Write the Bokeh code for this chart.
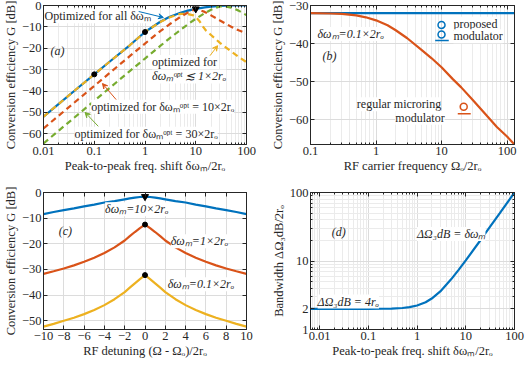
from bokeh.plotting import figure
from bokeh.layouts import column, row
from bokeh.models import (Label, Arrow, VeeHead, FixedTicker, CustomJSTickFormatter,
                          LinearAxis, LogAxis)
from bokeh.embed import file_html
from bokeh.resources import INLINE

FONT = "Liberation Serif"
TXT = "#262626"
BLUE = "#0072BD"
ORANGE = "#D95319"
YELLOW = "#EDB120"
GREEN = "#77AC30"

# ---------------- data: panel (a) ----------------
a_shift_all = [0.01, 0.02, 0.05, 0.1, 0.2, 0.5, 1, 2, 3, 5, 7, 10, 15, 20, 30, 50, 70, 100]
a_gain_all = [-52.0, -46.0, -38.1, -32.2, -26.3, -18.6, -12.4, -7.6, -5.4, -3.4, -2.4, -1.6, -0.9, -0.5, -0.15, 0.0, 0.0, 0.0]
a_shift_le1 = [0.01, 0.02, 0.05, 0.1, 0.2, 0.5, 1, 2, 3, 5, 7, 9, 10, 12, 14, 16, 20, 30, 50, 70, 100]
a_gain_le1 = [-52.0, -46.0, -38.1, -32.2, -26.3, -18.6, -12.4, -7.7, -5.6, -3.9, -4.0, -4.6, -5.3, -7.5, -10.0, -11.8, -13.8, -17.5, -21.5, -24.0, -26.5]
a_shift_10 = [0.01, 0.02, 0.05, 0.1, 0.2, 0.5, 1, 2, 3, 5, 7, 10, 15, 20, 30, 50, 70, 100]
a_gain_10 = [-57.5, -51.5, -43.6, -37.6, -31.6, -23.7, -17.8, -12.0, -8.9, -5.3, -3.3, -1.6, -3.0, -4.6, -7.0, -9.9, -11.6, -13.0]
a_shift_30 = [0.01, 0.02, 0.05, 0.1, 0.2, 0.5, 1, 2, 3, 5, 7, 10, 15, 20, 30, 40, 50, 70, 100]
a_gain_30 = [-64.5, -58.5, -50.6, -44.6, -38.6, -30.7, -24.8, -18.9, -15.5, -11.4, -8.8, -6.2, -3.6, -2.0, -0.4, -0.5, -1.0, -2.4, -4.5]
a_mark_x = [0.1, 1]
a_mark_y = [-32.2, -12.4]
a_tri_x = [10]
a_tri_y = [-1.6]

# ---------------- data: panel (b) ----------------
b_freq = [0.1, 0.2, 0.3, 0.5, 0.7, 1, 1.5, 2, 3, 5, 7, 10, 15, 20, 30, 50, 70, 100, 130]
b_proposed = [-32.0, -32.0, -32.0, -32.0, -32.0, -32.0, -32.0, -32.0, -32.0, -32.0, -32.0, -32.0, -32.0, -32.0, -32.0, -32.0, -32.0, -32.0, -32.0]
b_regular = [-32.0, -32.1, -32.2, -32.6, -33.1, -33.9, -35.2, -36.5, -38.6, -41.7, -43.8, -46.2, -49.4, -51.5, -54.8, -59.1, -61.9, -64.4, -66.5]

# ---------------- data: panel (c) ----------------
c_detune = [-10, -9, -8, -7, -6, -5, -4, -3, -2, -1.5, -1, -0.5, 0, 0.5, 1, 1.5, 2, 3, 4, 5, 6, 7, 8, 9, 10]
c_gain_10 = [-8.4, -7.6, -6.9, -6.2, -5.4, -4.7, -3.9, -3.35, -2.65, -2.3, -2.0, -1.75, -1.6,
             -1.75, -2.0, -2.3, -2.65, -3.35, -3.9, -4.7, -5.4, -6.2, -6.9, -7.6, -8.4]
c_gain_1 = [-31.7, -30.7, -29.6, -28.4, -27.0, -25.4, -23.6, -21.4, -18.7, -17.0, -15.4, -13.9, -12.5,
            -13.9, -15.4, -17.0, -18.7, -21.4, -23.6, -25.4, -27.0, -28.4, -29.6, -30.7, -31.7]
c_gain_01 = [-52.3, -51.2, -50.0, -48.8, -47.4, -45.8, -43.9, -41.6, -38.8, -37.1, -35.4, -33.8, -32.2,
             -33.8, -35.4, -37.1, -38.8, -41.6, -43.9, -45.8, -47.4, -48.8, -50.0, -51.2, -52.3]
c_peak_x = [0, 0]
c_peak_y = [-12.5, -32.2]
c_tri_x = [0]
c_tri_y = [-1.6]

# ---------------- data: panel (d) ----------------
d_shift = [0.0065, 0.01, 0.03, 0.1, 0.2, 0.3, 0.5, 0.7, 1, 1.5, 2, 3, 5, 7, 10, 20, 30, 50, 100]
d_bw = [2.0, 2.0, 2.0, 2.0, 2.01, 2.02, 2.06, 2.12, 2.24, 2.5, 2.83, 3.6, 5.4, 7.3, 10.2, 20.1, 30.1, 50.0, 100.0]

# tick labels
a_xticks = [0.01, 0.1, 1, 10, 100]
b_xticks = [0.1, 1, 10, 100]
c_xticks = [-10, -8, -6, -4, -2, 0, 2, 4, 6, 8, 10]
a_yticks = [-60, -50, -40, -30, -20, -10, 0]
b_yticks = [-60, -50, -40, -30]
c_yticks = [-50, -40, -30, -20, -10, 0]
d_yticks = [1, 2, 10, 100]


def log_minors(lo_exp, hi_exp):
    out = []
    for e in range(lo_exp, hi_exp):
        for k in range(2, 10):
            out.append(k * 10.0 ** e)
    return out


FMT = CustomJSTickFormatter(code="return tick.toString();")


def style_axis(ax):
    ax.major_label_text_font = FONT
    ax.major_label_text_font_size = "12.5px"
    ax.major_label_text_color = TXT
    ax.axis_label_text_font = FONT
    ax.axis_label_text_font_size = "12.5px"
    ax.axis_label_text_font_style = "normal"
    ax.axis_label_text_color = TXT
    ax.axis_line_color = TXT
    ax.major_tick_line_color = TXT
    ax.minor_tick_line_color = TXT
    ax.major_tick_in = 4
    ax.major_tick_out = 0
    ax.minor_tick_in = 2
    ax.minor_tick_out = 0
    ax.major_label_standoff = 2
    ax.axis_label_standoff = 1


def make_fig(w, h, xt, yt, xr, yr, bl, br, bt, bb):
    p = figure(width=w, height=h, x_axis_type=xt, y_axis_type=yt, x_range=xr, y_range=yr,
               output_backend="svg", toolbar_location=None,
               min_border_left=bl, min_border_right=br, min_border_top=bt, min_border_bottom=bb)
    p.outline_line_color = TXT
    p.outline_line_width = 1
    p.outline_line_alpha = 1
    p.background_fill_color = "white"
    p.border_fill_color = "white"
    for ax in p.axis:
        style_axis(ax)
    p.grid.grid_line_color = "#dcdcdc"
    p.grid.grid_line_width = 1
    return p


def box_axes(p):
    # mirrored tick marks on the top and right sides, labels hidden
    for side, src in (("above", p.xaxis[0]), ("right", p.yaxis[0])):
        cls = LogAxis if isinstance(src, LogAxis) else LinearAxis
        ax = cls(ticker=src.ticker, formatter=src.formatter)
        style_axis(ax)
        ax.major_label_text_font_size = "1px"
        ax.major_label_text_alpha = 0
        ax.major_label_standoff = 0
        if src.minor_tick_line_color is None:
            ax.minor_tick_line_color = None
        p.add_layout(ax, side)


def set_log_x(p, ticks, lo, hi):
    p.xaxis.ticker = FixedTicker(ticks=ticks, minor_ticks=log_minors(lo, hi))
    p.xaxis.formatter = FMT
    p.xgrid.ticker = p.xaxis[0].ticker
    p.xgrid.minor_grid_line_color = "#ebebeb"


def set_lin(axis, grid, ticks):
    axis.ticker = FixedTicker(ticks=ticks)
    axis.minor_tick_line_color = None
    grid.ticker = axis.ticker


def add_text(p, x, y, text, italic=False, size="12px", bg=True):
    p.add_layout(Label(x=x, y=y, text=text, text_font=FONT, text_font_size=size,
                       text_font_style="italic" if italic else "normal",
                       text_color=TXT, text_baseline="middle", text_align="left",
                       background_fill_color="white" if bg else None))


def add_arrow(p, x0, y0, x1, y1, color):
    p.add_layout(Arrow(x_start=x0, y_start=y0, x_end=x1, y_end=y1, line_color=color, line_width=1,
                       end=VeeHead(size=5, line_color=color, fill_color=color, line_width=1)))


# ---------------- panel (a) ----------------
pa = make_fig(264, 186, "log", "linear", (0.01, 100), (-65, 0), 42, 18, 5, 42)
set_log_x(pa, a_xticks, -2, 2)
set_lin(pa.yaxis[0], pa.ygrid[0], a_yticks)
pa.xaxis[0].axis_label = "Peak-to-peak freq. shift δωₘ/2rₒ"
pa.yaxis[0].axis_label = "Conversion efficiency G [dB]"
box_axes(pa)
pa.line(a_shift_all, a_gain_all, line_color=BLUE, line_width=2.2)
pa.line(a_shift_le1, a_gain_le1, line_color=YELLOW, line_width=2.2, line_dash="6 4")
pa.line(a_shift_10, a_gain_10, line_color=ORANGE, line_width=2.2, line_dash="6 4")
pa.line(a_shift_30, a_gain_30, line_color=GREEN, line_width=2.2, line_dash="6 4")
pa.scatter(a_mark_x, a_mark_y, marker="circle", size=5, fill_color="black", line_color="black")
pa.scatter(a_tri_x, a_tri_y, marker="inverted_triangle", size=7, fill_color="black", line_color="black")
add_text(pa, 0.0105, -5.0, "Optimized for all δωₘ")
add_text(pa, 0.0138, -21.4, "(a)", italic=True, bg=False)
add_text(pa, 1.38, -26.4, "optimized for")
add_text(pa, 1.38, -33.2, "δωₘᵒᵖᵗ ≲ 1×2rₒ", italic=True)
add_text(pa, 0.087, -47.3, "optimized for δωₘᵒᵖᵗ = 10×2rₒ")
add_text(pa, 0.041, -60.0, "optimized for δωₘᵒᵖᵗ = 30×2rₒ")
add_arrow(pa, 0.75, -2.8, 2.3, -5.6, BLUE)
add_arrow(pa, 19, -23.5, 27, -18.8, YELLOW)
add_arrow(pa, 0.27, -44.0, 0.145, -36.5, ORANGE)
add_arrow(pa, 0.12, -56.5, 0.066, -50.0, GREEN)

# ---------------- panel (b) ----------------
pb = make_fig(262, 186, "log", "linear", (0.1, 130), (-66.5, -30), 46, 12, 5, 42)
set_log_x(pb, b_xticks, -1, 3)
set_lin(pb.yaxis[0], pb.ygrid[0], b_yticks)
pb.xaxis[0].axis_label = "RF carrier frequency Ωₒ/2rₒ"
pb.yaxis[0].axis_label = "Conversion efficiency G [dB]"
box_axes(pb)
pb.line(b_freq, b_proposed, line_color=BLUE, line_width=2.2)
pb.line(b_freq, b_regular, line_color=ORANGE, line_width=2.2)
add_text(pb, 0.128, -37.5, "δωₘ=0.1×2rₒ", italic=True)
add_text(pb, 0.153, -43.2, "(b)", italic=True, bg=False)
add_text(pb, 15.2, -34.8, "proposed")
add_text(pb, 15.2, -38.1, "modulator")
add_text(pb, 0.51, -55.9, "regular microring")
add_text(pb, 1.97, -59.5, "modulator")
pb.scatter([10.0, 10.0], [-35.1, -37.6], marker="circle", size=7, fill_color=None, line_color=BLUE, line_width=1.5)
pb.line([8.0, 12.9], [-39.2, -39.2], line_color=BLUE, line_width=1.5)
pb.scatter([21.8], [-56.6], marker="circle", size=7, fill_color=None, line_color=ORANGE, line_width=1.5)
pb.line([17.7, 27.9], [-58.4, -58.4], line_color=ORANGE, line_width=1.5)

# ---------------- panel (c) ----------------
pc = make_fig(264, 183, "linear", "linear", (-10, 10), (-53.4, 0), 42, 18, 6, 40)
set_lin(pc.xaxis[0], pc.xgrid[0], c_xticks)
set_lin(pc.yaxis[0], pc.ygrid[0], c_yticks)
pc.xaxis[0].axis_label = "RF detuning (Ω - Ωₒ)/2rₒ"
pc.yaxis[0].axis_label = "Conversion efficiency G [dB]"
box_axes(pc)
pc.line(c_detune, c_gain_10, line_color=BLUE, line_width=2.2)
pc.line(c_detune, c_gain_1, line_color=ORANGE, line_width=2.2)
pc.line(c_detune, c_gain_01, line_color=YELLOW, line_width=2.2)
pc.scatter(c_peak_x, c_peak_y, marker="circle", size=5, fill_color="black", line_color="black")
pc.scatter(c_tri_x, c_tri_y, marker="inverted_triangle", size=7, fill_color="black", line_color="black")
add_text(pc, -3.93, -6.5, "δωₘ=10×2rₒ", italic=True)
add_text(pc, -8.5, -15.1, "(c)", italic=True, bg=False)
add_text(pc, 2.54, -19.0, "δωₘ=1×2rₒ", italic=True)
add_text(pc, 2.24, -35.8, "δωₘ=0.1×2rₒ", italic=True)

# ---------------- panel (d) ----------------
pd_ = make_fig(262, 183, "log", "log", (0.0065, 100), (1, 100), 46, 12, 6, 40)
set_log_x(pd_, a_xticks, -3, 2)
pd_.yaxis[0].ticker = FixedTicker(ticks=d_yticks, minor_ticks=[3, 4, 5, 6, 7, 8, 9, 20, 30, 40, 50, 60, 70, 80, 90])
pd_.yaxis[0].formatter = FMT
pd_.ygrid.ticker = pd_.yaxis[0].ticker
pd_.ygrid.minor_grid_line_color = "#ebebeb"
pd_.xaxis[0].axis_label = "Peak-to-peak freq. shift δωₘ/2rₒ"
pd_.yaxis[0].axis_label = "Bandwidth ΔΩ₃dB/2rₒ"
box_axes(pd_)
pd_.line(d_shift, d_bw, line_color=BLUE, line_width=2.2)
add_text(pd_, 0.0177, 26.9, "(d)", italic=True, bg=False)
add_text(pd_, 1.0, 24.8, "ΔΩ₃dB = δωₘ", italic=True)
add_text(pd_, 0.0091, 2.56, "ΔΩ₃dB = 4rₒ", italic=True)

layout = column(row(pa, pb), row(pc, pd_))
open("out.html", "w").write(file_html(layout, INLINE))
